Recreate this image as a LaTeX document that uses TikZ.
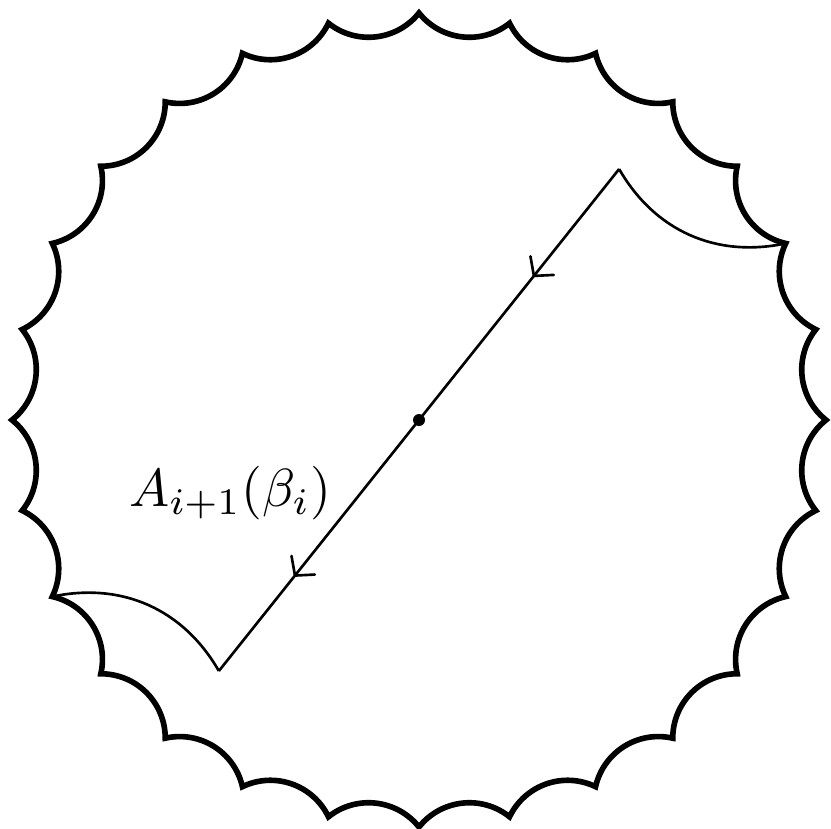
\documentclass[tikz,border=0pt]{standalone}
\usetikzlibrary{arrows.meta,decorations.markings,calc}
\begin{document}
\begin{tikzpicture}[x=0.02cm,y=0.02cm,
  outer/.style={line width=3.2pt,line join=miter},
  inner/.style={line width=1.5pt},
  barb/.tip={Straight Barb[length=7.5pt,width=17pt,line width=1.5pt,round]},
  midarrows/.style={decoration={markings,
     mark=at position 0.215 with {\arrow{barb}},
     mark=at position 0.812 with {\arrow{barb}}},
     postaction=decorate}]
\useasboundingbox (0,0) rectangle (831,-828);
\coordinate (O) at (419,-420);
\foreach \k in {0,...,27}
  \coordinate (v\k) at ({419+407*cos(\k*360/28)},{-420+407*sin(\k*360/28)});
\coordinate (P) at ({419+321*cos(4*360/28)},{-420+321*sin(4*360/28)});
\coordinate (Q) at ({419-321*cos(4*360/28)},{-420-321*sin(4*360/28)});
\draw[outer] (v0) \foreach \k in {1,...,27}{ to[bend left=45] (v\k) } to[bend left=45] cycle;
\draw[inner] (P) to[bend right=36] (v2);
\draw[inner] (Q) to[bend right=36] (v16);
\draw[inner,midarrows] (P) -- (Q);
\fill (O) circle (6);
\node[anchor=base west,inner sep=0,scale=3.05] (lab) at (128,-506) {$A_{i+1}(\beta_i)$};
\end{tikzpicture}
\end{document}
